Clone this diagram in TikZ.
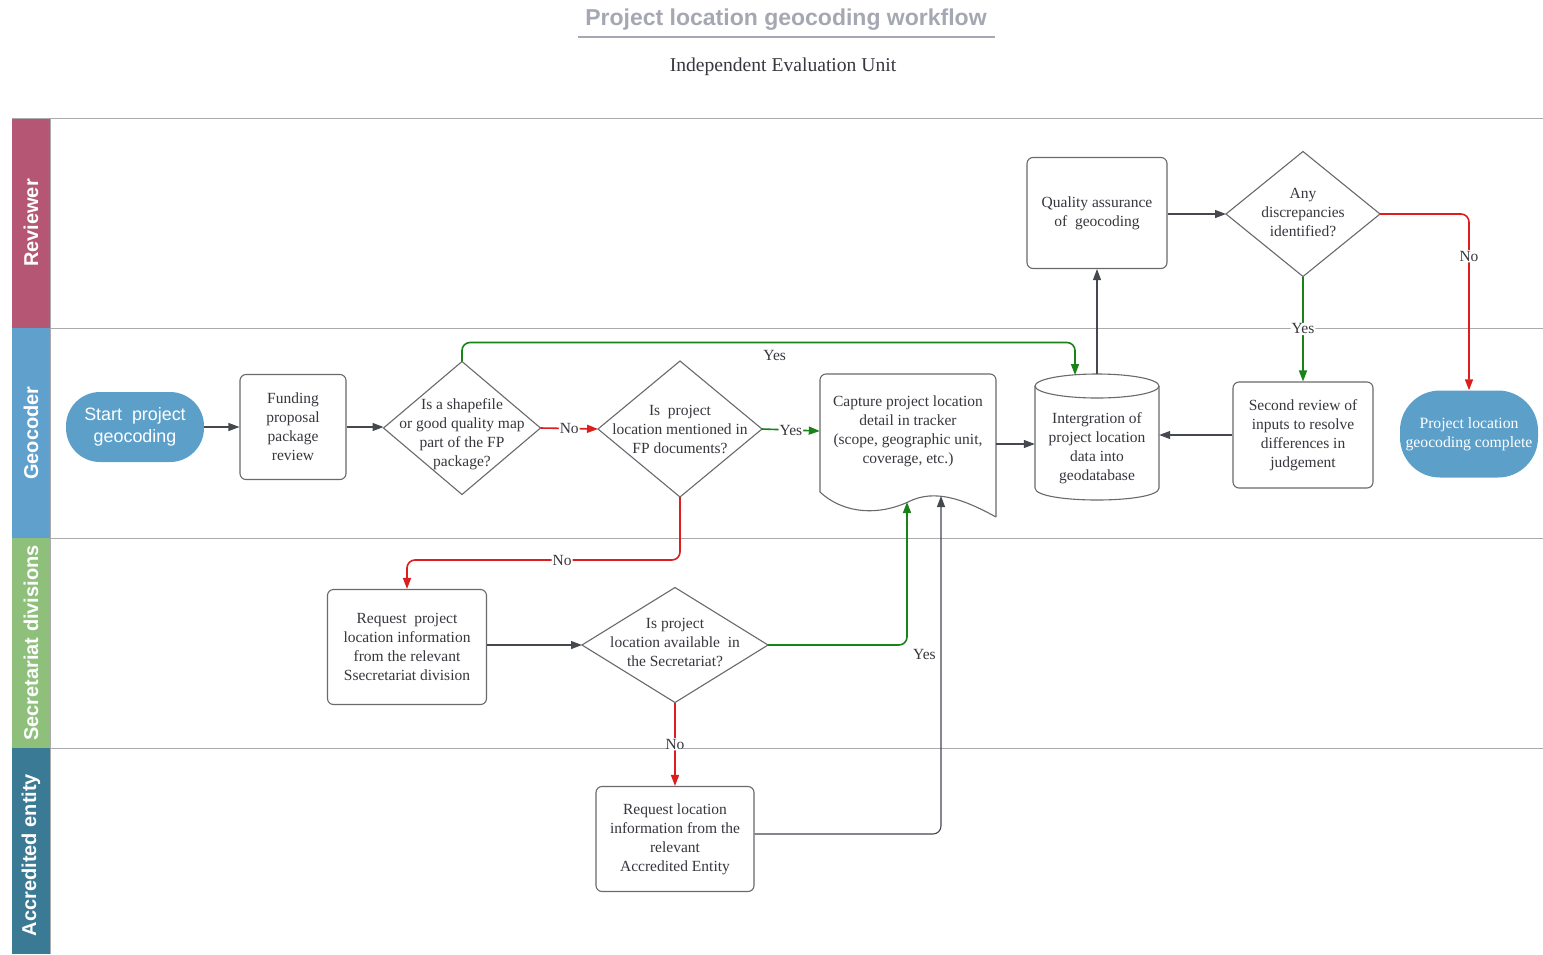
\documentclass[tikz,border=0pt]{standalone}
\usepackage{fontspec}
\setmainfont{Liberation Serif}
\setsansfont{Liberation Sans}
\usetikzlibrary{shapes.geometric,arrows.meta,calc}
\definecolor{txtc}{RGB}{55,55,62}
\definecolor{bordc}{RGB}{105,105,110}
\definecolor{linec}{RGB}{70,72,80}
\definecolor{sepc}{RGB}{170,170,175}
\definecolor{termc}{RGB}{92,160,202}
\definecolor{yesc}{RGB}{25,130,25}
\definecolor{noc}{RGB}{220,30,30}
\definecolor{titlec}{RGB}{165,168,178}
\definecolor{revc}{RGB}{180,86,116}
\definecolor{geoc}{RGB}{96,160,204}
\definecolor{secc}{RGB}{142,192,124}
\definecolor{accc}{RGB}{58,122,148}
\begin{document}
\begin{tikzpicture}[x=1pt,y=-1pt,
  txt/.style={font=\fontsize{15.5}{19}\selectfont, text=txtc, align=center},
  proc/.style={draw=bordc, line width=1.1pt, rounded corners=6pt, txt, inner sep=0pt},
  decision/.style={diamond, draw=bordc, line width=1.1pt, inner sep=0pt, outer sep=0pt},
  term/.style={fill=termc, rounded corners=34pt, inner sep=0pt, align=center, text=white},
  flow/.style={draw=linec, line width=1.1pt, -{Triangle[length=11pt,width=8pt]}, rounded corners=8pt},
  yesflow/.style={flow, draw=yesc, line width=1.6pt},
  noflow/.style={flow, draw=noc, line width=1.6pt},
  lbl/.style={fill=white, inner sep=1pt, font=\fontsize{15.5}{17}\selectfont, text=txtc},
  lanelbl/.style={rotate=90, text=white, font=\sffamily\bfseries\fontsize{20}{23}\selectfont},
  sep/.style={draw=sepc, line width=1pt}
]
\fill[white] (0,0) rectangle (1543,954);
\useasboundingbox (0,0) rectangle (1543,954);

% title
\node[font=\sffamily\bfseries\fontsize{23}{26}\selectfont, text=titlec] (title) at (786,20) {Project location geocoding workflow};
\draw[titlec, line width=1.5pt] (578,37) -- (995,37);
\node[font=\fontsize{19.6}{22}\selectfont, text=txtc] (subtitle) at (783,67) {Independent Evaluation Unit};

% lanes
\fill[revc] (12,118) rectangle (50,328);
\fill[geoc] (12,328) rectangle (50,538);
\fill[secc] (12,538) rectangle (50,748);
\fill[accc] (12,748) rectangle (50,954);
\node[lanelbl] (lrev) at (31,223) {Reviewer};
\node[lanelbl] (lgeo) at (31,433) {Geocoder};
\node[lanelbl] (lsec) at (31,643) {Secretariat divisions};
\node[lanelbl] (lacc) at (31,855) {Accredited entity};
\draw[sep] (12,118) -- (1543,118);
\draw[sep] (50,328) -- (1543,328);
\draw[sep] (50,538) -- (1543,538);
\draw[sep] (50,748) -- (1543,748);
\draw[sep] (50,118) -- (50,954);

% nodes
\node[term, minimum width=138pt, minimum height=70pt, font=\sffamily\fontsize{17.9}{22}\selectfont] (start) at (135,427) {Start\ \ project\\geocoding};
\node[proc, minimum width=106pt, minimum height=105pt] (fund) at (293,427) {Funding\\proposal\\package\\review};
\node[decision, minimum width=157pt, minimum height=133pt,
  label={[txt, yshift=-6pt]center:Is a shapefile\\or good quality map\\part of the FP\\package?}] (d1) at (462,428) {};
\node[decision, minimum width=164pt, minimum height=136pt,
  label={[txt]center:Is\ \ project\\location mentioned in\\FP documents?}] (d2) at (680,429) {};
\node[txt, minimum width=176pt, inner sep=0pt] (capture) at (908,431) {Capture project location\\detail in tracker\\(scope, geographic unit,\\coverage, etc.)};
\draw[draw=bordc, line width=1.1pt] (996,517) .. controls (965,500) and (935,488) .. (908,502) .. controls (880,515) and (845,515) .. (820,492) [rounded corners=6pt] -- (820,374) -- (996,374) -- (996,517);
\coordinate (capA) at (907,502);
\coordinate (capB) at (941,496);
\coordinate (capout) at ([yshift=-13pt]capture.east);

\node[txt, minimum width=124pt, inner sep=0pt] (db) at (1097,448) {Intergration of\\project location\\data into\\geodatabase};
\draw[draw=bordc, line width=1.1pt] (1097,386) ellipse [x radius=62, y radius=12];
\draw[draw=bordc, line width=1.1pt] (1035,386) -- (1035,488) .. controls (1035,504) and (1159,504) .. (1159,488) -- (1159,386);
\coordinate (dbtop) at (1097,374);
\coordinate (dbin) at (1075,375);

\node[proc, minimum width=140pt, minimum height=106pt] (second) at (1303,435) {Second review of\\inputs to resolve\\differences in\\judgement};
\node[term, minimum width=138pt, minimum height=87pt, rounded corners=40pt, font=\fontsize{15.7}{19}\selectfont] (end) at (1469,434) {Project location\\geocoding complete};
\node[proc, minimum width=140pt, minimum height=111pt] (qa) at (1097,213) {Quality assurance\\of\ \ geocoding};
\node[decision, minimum width=154pt, minimum height=125pt,
  label={[txt, yshift=2pt]center:Any\\discrepancies\\identified?}] (d3) at (1303,214) {};
\node[proc, minimum width=159pt, minimum height=115pt] (req1) at (407,647) {Request\ \ project\\location information\\from the relevant\\Ssecretariat division};
\node[decision, minimum width=186pt, minimum height=115pt,
  label={[txt, yshift=3pt]center:Is project\\location available\ \ in\\the Secretariat?}] (d4) at (675,645) {};
\node[proc, minimum width=158pt, minimum height=105pt] (req2) at (675,839) {Request location\\information from the\\relevant\\Accredited Entity};

% connectors
\draw[flow] (start.east) -- (fund.west);
\draw[flow] (fund.east) -- (fund.east -| d1.west);
\draw[noflow] (d1.east) -- node[lbl] {No} (d2.west);
\draw[yesflow] (d1.north) -- ++(0,-19) -| node[pos=0.255, below, txt, yshift=-4pt] {Yes} (dbin);
\draw[yesflow] (d2.east) -- node[lbl] {Yes} (capture.west);
\draw[flow] (capout) -- (capout -| db.west);
\draw[flow] (dbtop) -- (qa.south);
\draw[flow] (qa.east |- d3.west) -- (d3.west);
\draw[noflow] (d3.east) -| node[pos=0.62, lbl] {No} (end.north);
\draw[yesflow] (d3.south) -- node[lbl] {Yes} (second.north);
\draw[flow] (second.west) -- (second.west -| db.east);
\draw[noflow] (d2.south) -- ++(0,63) -| node[pos=0.216, lbl] {No} (req1.north);
\draw[flow] (req1.east |- d4.west) -- (d4.west);
\draw[yesflow] (d4.east) -| node[pos=0.5, below right, txt, xshift=2pt] {Yes} (capA);
\draw[noflow] (d4.south) -- node[lbl] {No} (req2.north);
\draw[flow] ([yshift=5pt]req2.east) -| (capB);
\end{tikzpicture}
\end{document}
